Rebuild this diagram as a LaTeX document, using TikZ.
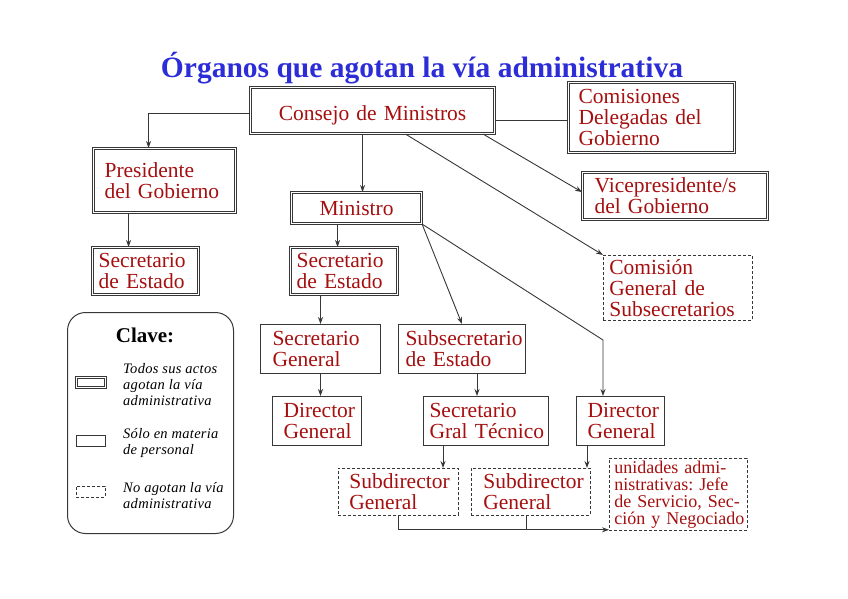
\documentclass[tikz,border=0pt]{standalone}
\usepackage{fontspec}
\setmainfont{Liberation Serif}
\newfontfamily\notafont[LetterSpace=2]{Liberation Serif}
\usetikzlibrary{arrows.meta}
\hyphenpenalty=10000
\exhyphenpenalty=10000
\definecolor{rojoorg}{RGB}{165,15,15}
\definecolor{azultit}{RGB}{45,45,215}
\definecolor{trazo}{RGB}{55,55,55}
\tikzset{
  caja/.style={draw=trazo, line width=1pt, anchor=north west, inner ysep=0pt,
    text=rojoorg, align=left, font=\fontsize{21.5}{21}\selectfont},
  doble/.style={caja, double=white, double distance=1.6pt, line width=1.1pt},
  discont/.style={caja, line width=0.8pt, dash pattern=on 3pt off 2pt},
  flecha/.style={-{Stealth[length=7pt,width=5pt]}, draw=trazo, line width=0.9pt},
  nota/.style={anchor=west, inner sep=0pt, align=left,
    font=\notafont\itshape\fontsize{14.5}{16}\selectfont},
}
\begin{document}
\begin{tikzpicture}[x=1pt,y=-1pt]
  \useasboundingbox (0,0) rectangle (848,599);
  \node[font=\bfseries\fontsize{29.5}{30}\selectfont, text=azultit] (titulo) at (422,68)
    {Órganos que agotan la vía administrativa};

  \node[doble, align=center, inner xsep=6pt, text width=232pt, text height=20pt, text depth=0pt, minimum height=46pt] (consejo) at (250,87) {Consejo de Ministros};
  \node[doble, inner xsep=10pt, text width=146pt, minimum height=70pt] (comisiones) at (568,82) {Comisiones\\Delegadas del\\Gobierno};
  \node[doble, inner xsep=11pt, text width=120pt, minimum height=64pt] (presidente) at (93,148) {Presidente\\del~Gobierno};
  \node[doble, inner xsep=12pt, text width=161pt, minimum height=47pt] (vice) at (582,172) {Vicepresidente/s\\del~Gobierno};
  \node[doble, align=center, inner xsep=6pt, text width=118pt, minimum height=31pt] (ministro) at (291,192) {Ministro};
  \node[doble, inner xsep=6pt, text width=94pt, minimum height=47pt] (secEstadoA) at (92,247) {Secretario\\de~Estado};
  \node[doble, inner xsep=6pt, text width=95pt, minimum height=47pt] (secEstadoB) at (290,247) {Secretario\\de~Estado};
  \node[discont, inner xsep=6pt, text width=137pt, minimum height=65pt] (comision) at (603,255) {Comisión\\General~de\\Subsecretarios};
  \node[caja, inner xsep=12pt, text width=96pt, minimum height=49pt] (secGeneral) at (260,324) {Secretario\\General};
  \node[caja, inner xsep=7pt, text width=113pt, minimum height=49pt] (subsecretario) at (398,324) {Subsecretario\\de~Estado};
  \node[caja, inner xsep=11pt, text width=67pt, minimum height=49pt] (directorA) at (272,396) {Director\\General};
  \node[caja, inner xsep=6pt, text width=113pt, minimum height=49pt] (secTecnico) at (423,396) {Secretario\\Gral~Técnico};
  \node[caja, inner xsep=11pt, text width=66pt, minimum height=49pt] (directorB) at (576,396) {Director\\General};
  \node[discont, inner xsep=11pt, text width=98pt, minimum height=47pt] (subdirA) at (338,468) {Subdirector\\General};
  \node[discont, inner xsep=12pt, text width=95pt, minimum height=47pt] (subdirB) at (471,468) {Subdirector\\General};
  \node[discont, inner xsep=5pt, text width=128pt, minimum height=72pt, font=\fontsize{18}{17}\selectfont] (unidades) at (609,458)
    {unidades~admi-\\nistrativas:~Jefe\\de~Servicio,~Sec-\\ción~y~Negociado};

  \node[draw=trazo, line width=1pt, rounded corners=18pt, minimum width=166pt, minimum height=221pt, anchor=north west] (clave) at (67,312) {};
  \node[font=\bfseries\fontsize{21}{21}\selectfont] (claveTit) at (145,335) {Clave:};
  \node[doble, minimum width=29pt, minimum height=10pt, inner sep=0pt] (iconoA) at (76,377) {};
  \node[caja, minimum width=29pt, minimum height=11pt, inner sep=0pt] (iconoB) at (76,435) {};
  \node[discont, minimum width=29pt, minimum height=11pt, inner sep=0pt] (iconoC) at (76,486) {};
  \node[nota] (notaA) at (123,385) {Todos sus actos\\agotan la vía\\administrativa};
  \node[nota] (notaB) at (123,443) {Sólo en materia\\de personal};
  \node[nota] (notaC) at (123,496) {No agotan la vía\\administrativa};

  \draw[flecha] ([yshift=-3pt]consejo.west) -| ([xshift=-16pt]presidente.north);
  \draw[trazo, line width=0.9pt] ([yshift=-10pt]consejo.east) -- ([yshift=-10pt]consejo.east -| comisiones.west);
  \draw[flecha] ([xshift=-10pt]consejo.south) -- ([xshift=-10pt]consejo.south |- ministro.north);
  \draw[flecha] ([xshift=-12pt]consejo.south east) -- ([yshift=4pt]vice.west);
  \draw[flecha] ([xshift=33pt]consejo.south) -- (comision.north west);
  \draw[flecha] ([xshift=-36pt]presidente.south) -- ([xshift=-36pt]presidente.south |- secEstadoA.north);
  \draw[flecha] ([xshift=-19pt]ministro.south) -- ([xshift=-19pt]ministro.south |- secEstadoB.north);
  \draw[flecha] (ministro.south east) -- (subsecretario.north);
  \coordinate (codo) at (603,340);
  \draw[flecha] (ministro.south east) -- (codo) -- (codo |- directorB.north);
  \draw[flecha] ([xshift=-23.5pt]secEstadoB.south) -- (secGeneral.north);
  \draw[flecha] (secGeneral.south) -- (secGeneral.south |- directorA.north);
  \draw[flecha] ([xshift=15pt]subsecretario.south) -- ([xshift=15pt]subsecretario.south |- secTecnico.north);
  \draw[flecha] ([xshift=20pt]secTecnico.south west) -- ([xshift=20pt]secTecnico.south west |- subdirA.north);
  \draw[flecha] ([xshift=11pt]directorB.south west) -- ([xshift=11pt]directorB.south west |- subdirB.north);
  \draw[flecha] (subdirA.south) |- ([yshift=1pt]unidades.south west);
  \draw[trazo, line width=0.9pt] ([xshift=-4pt]subdirB.south) -- ([xshift=-4pt, yshift=1pt]subdirB.south |- unidades.south west);
\end{tikzpicture}
\end{document}
